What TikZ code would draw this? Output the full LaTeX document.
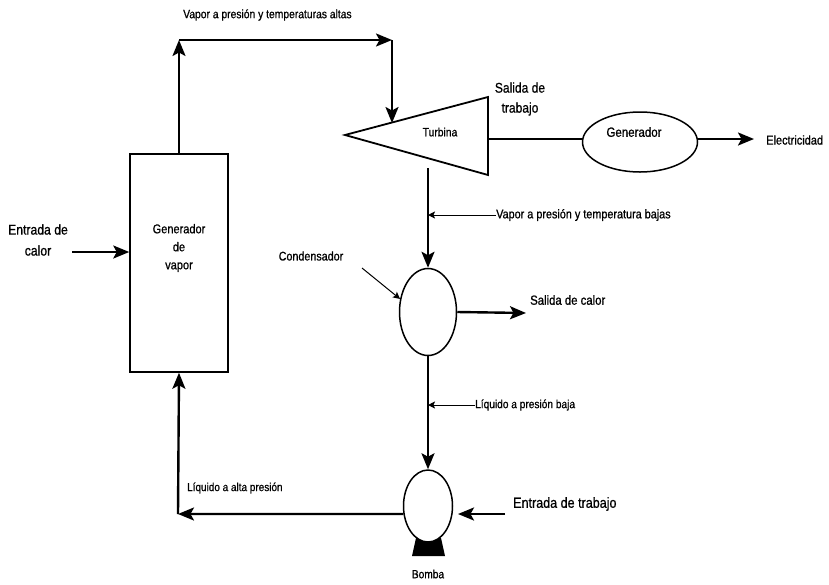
\documentclass[tikz,border=0pt]{standalone}
\usepackage{fontspec}
\setmainfont[FakeStretch=0.86,FakeBold=0.8]{Liberation Sans}
\usetikzlibrary{arrows.meta,shapes.geometric}
\begin{document}
\begin{tikzpicture}[x=1pt,y=-1pt,
  main/.style={line width=2.4pt},
  arr/.style={-{Stealth[length=16pt,width=13pt,inset=3.5pt]}},
  ptr/.style={line width=1pt,-{Stealth[length=7pt,width=7pt,inset=1.5pt]}},
  outl/.style={draw,line width=1.5pt},
  lbl/.style={inner sep=0pt,font=\fontsize{12}{14}\selectfont},
  txt/.style={inner sep=0pt,font=\fontsize{12}{14}\selectfont}]
\useasboundingbox (0,0) rectangle (829,584);
% steam generator
\node[outl,minimum width=98pt,minimum height=218pt,inner sep=0pt] (sg) at (179,263) {};
\node[txt,align=center,font=\fontsize{12.8}{18}\selectfont] (sgt) at (179,248) {Generador\\de\\vapor};
% top loop
\coordinate (c1) at (179,40);
\coordinate (c2) at (392,40);
\node[lbl,anchor=west] (ltop) at (183,15) {Vapor a presión y temperaturas altas};
% turbine
\coordinate (tA) at (345,135);
\coordinate (tB) at (488,97);
\coordinate (tC) at (488,175);
\draw[line width=1.8pt] (tA) -- (tB) -- (tC) -- cycle;
\coordinate (tin) at (392,123);
\node[txt] (turb) at (440,132) {Turbina};
\draw[main,arr] (sg.north) -- (c1);
\draw[main,arr] (c1) -- (c2);
\draw[main,arr] (c2) -- (tin);
% generator
\node[outl,ellipse,minimum width=115pt,minimum height=60pt,inner sep=0pt] (ge) at (640,142) {};
\node[txt,font=\fontsize{13.4}{15}\selectfont] (get) at (634,132) {Generador};
\coordinate (tsh) at (488,139);
\draw[main] (tsh) -- (tsh -| ge.west);
\coordinate (elec) at (754,139);
\draw[main,arr] (elec -| ge.east) -- (elec);
\node[txt,anchor=west,font=\fontsize{12.8}{15}\selectfont] (elt) at (766,140) {Electricidad};
\node[txt,align=center,font=\fontsize{14}{20}\selectfont] (sdt) at (520,99) {Salida de\\trabajo};
% condenser
\node[outl,ellipse,minimum width=57pt,minimum height=87pt,inner sep=0pt] (cd) at (428,312) {};
\coordinate (tout) at (428,168);
\draw[main,arr] (tout) -- (cd.north);
\coordinate (l1) at (496,215);
\draw[ptr] (l1) -- (l1 -| cd.north);
\node[lbl,anchor=west,font=\fontsize{12.6}{14}\selectfont] (l1t) at (l1) {Vapor a presión y temperatura bajas};
\node[txt,font=\fontsize{12.5}{14}\selectfont] (cdt) at (311,256) {Condensador};
\coordinate (cp) at (362,268);
\draw[ptr] (cp) -- (cd.155);
\coordinate (sc) at (526,313);
\draw[main,arr] (cd.east) -- (sc);
\node[txt,anchor=west,font=\fontsize{13.2}{15}\selectfont] (sct) at (530,300) {Salida de calor};
% pump
\fill (416,538) -- (412,556) -- (445,556) -- (441,538) -- cycle;
\node[outl,fill=white,ellipse,minimum width=49pt,minimum height=72pt,inner sep=0pt] (pm) at (428,506) {};
\node[txt,font=\fontsize{11.8}{13}\selectfont] (pmt) at (428,574) {Bomba};
\draw[main,arr] (cd.south) -- (pm.north);
\coordinate (l2) at (475,405);
\draw[ptr] (l2) -- (l2 -| cd.south);
\node[lbl,anchor=west,font=\fontsize{11.8}{14}\selectfont] (l2t) at (l2) {Líquido a presión baja};
\coordinate (c3) at (178,514);
\draw[main,arr] (pm.198) -- (c3);
\draw[main,arr] (c3) -- (sg.south);
\node[lbl,anchor=west,font=\fontsize{11.6}{14}\selectfont] (l3t) at (187,488) {Líquido a alta presión};
\coordinate (ew) at (505,514);
\coordinate (ewe) at (458,514);
\draw[main,arr] (ew) -- (ewe);
\node[txt,anchor=west,font=\fontsize{14.6}{16}\selectfont] (ewt) at (513,504) {Entrada de trabajo};
% heat input
\coordinate (hc) at (72,252);
\draw[main,arr] (hc) -- (hc -| sg.west);
\node[txt,align=center,font=\fontsize{14.2}{21}\selectfont] (hct) at (38,240) {Entrada de\\calor};
\end{tikzpicture}
\end{document}
